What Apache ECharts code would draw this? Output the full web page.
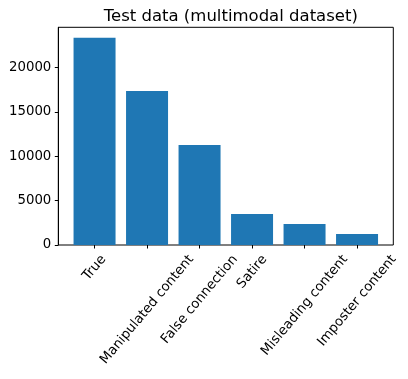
<!DOCTYPE html>
<html>
<head>
<meta charset="utf-8">
<script src="https://cdn.jsdelivr.net/npm/echarts@6/dist/echarts.min.js"></script>
<style>html,body{margin:0;padding:0;background:#fff;}#c{width:408px;height:379px;}</style>
</head>
<body>
<div id="c"></div>
<script>
var categories = ['True', 'Manipulated content', 'False connection', 'Satire', 'Misleading content', 'Imposter content'];
var counts = [23380, 17370, 11280, 3495, 2370, 1240];
var yTicks = [0, 5000, 10000, 15000, 20000];
var yMax = 24550;

var FONT = 'DejaVu Sans';
var tickFont = 13.3;
var ROT = 50;
var rad = ROT * Math.PI / 180;
var ctx = document.createElement('canvas').getContext('2d');
ctx.font = tickFont + 'px "' + FONT + '"';
var lineH = tickFont * 1.17;
var rich = {};
categories.forEach(function (c, i) {
  var w = ctx.measureText(c).width;
  var bboxH = w * Math.sin(rad) + lineH * Math.cos(rad);
  var d = bboxH / 2;
  rich['l' + i] = {
    fontFamily: FONT, fontSize: tickFont, color: '#000', lineHeight: lineH,
    padding: [2 * d * Math.cos(rad), 2 * d * Math.sin(rad), 0, 0]
  };
});

var chart = echarts.init(document.getElementById('c'), null, {renderer: 'canvas'});
chart.setOption({
  animation: false,
  backgroundColor: '#fff',
  title: {
    text: 'Test data (multimodal dataset)',
    left: 225.8, textAlign: 'center', top: 3,
    textStyle: {fontFamily: FONT, fontSize: 16.5, fontWeight: 'normal', color: '#000'}
  },
  grid: [
    {left: 58.3, right: 14.7, top: 27.3, bottom: 134, containLabel: false, outerBoundsMode: 'none', show: true, borderColor: '#000', borderWidth: 1, backgroundColor: 'transparent'},
    {left: 68.3, right: 24.7, top: 27.3, bottom: 134, containLabel: false, outerBoundsMode: 'none'}
  ],
  xAxis: [
    {type: 'value', gridIndex: 0, show: false, min: 0, max: 1},
    {
      type: 'category', gridIndex: 1, data: categories,
      axisLine: {show: false},
      axisTick: {show: true, alignWithLabel: true, interval: 0, length: 3.5, inside: false, lineStyle: {color: '#000', width: 1}},
      axisLabel: {
        show: true, interval: 0, rotate: ROT, margin: 7, hideOverlap: false,
        align: 'center', verticalAlign: 'middle',
        formatter: function (v, i) { return '{l' + i + '|' + v + '}'; },
        rich: rich
      },
      splitLine: {show: false}
    }
  ],
  yAxis: [
    {
      type: 'value', gridIndex: 0, min: 0, max: yMax,
      axisLine: {show: true, lineStyle: {color: '#000', width: 1}},
      axisTick: {show: true, length: 3.5, lineStyle: {color: '#000'}, customValues: yTicks},
      axisLabel: {show: true, margin: 7, fontFamily: FONT, fontSize: tickFont, color: '#000', customValues: yTicks,
        formatter: function (v) { return String(v); }},
      splitLine: {show: false}
    },
    {type: 'value', gridIndex: 1, min: 0, max: yMax, show: false, splitLine: {show: false}}
  ],
  series: [{
    type: 'bar', xAxisIndex: 1, yAxisIndex: 1,
    data: counts, barCategoryGap: '20%',
    itemStyle: {color: '#1f77b4'}
  }]
});
</script>
</body>
</html>
